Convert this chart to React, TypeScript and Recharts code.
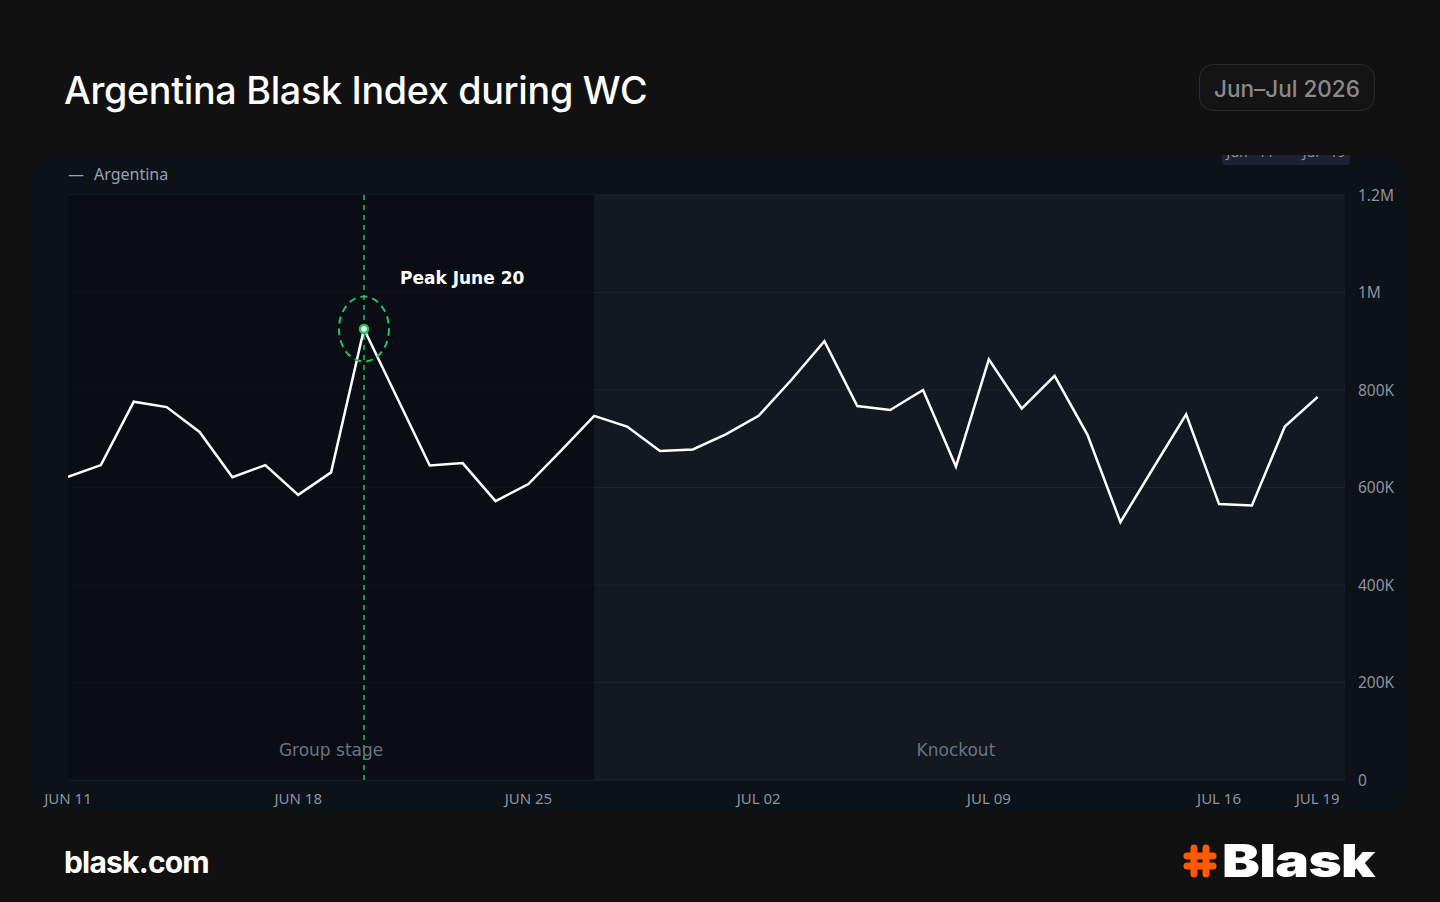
import React from 'react';
import { LineChart, Line, XAxis, YAxis, CartesianGrid, ReferenceArea, ReferenceLine } from 'recharts';

const dayLabels = [
  'Jun 11', 'Jun 12', 'Jun 13', 'Jun 14', 'Jun 15', 'Jun 16', 'Jun 17', 'Jun 18', 'Jun 19', 'Jun 20',
  'Jun 21', 'Jun 22', 'Jun 23', 'Jun 24', 'Jun 25', 'Jun 26', 'Jun 27', 'Jun 28', 'Jun 29', 'Jun 30',
  'Jul 01', 'Jul 02', 'Jul 03', 'Jul 04', 'Jul 05', 'Jul 06', 'Jul 07', 'Jul 08', 'Jul 09', 'Jul 10',
  'Jul 11', 'Jul 12', 'Jul 13', 'Jul 14', 'Jul 15', 'Jul 16', 'Jul 17', 'Jul 18', 'Jul 19',
];

const argentina = [
  622000, 646000, 776000, 765000, 714000, 621000, 646000, 585000, 631000, 925000,
  785000, 645000, 650000, 572000, 607000, 676000, 747000, 725000, 675000, 678000,
  709000, 747000, 821000, 900000, 767000, 759000, 800000, 643000, 863000, 762000,
  829000, 708000, 529000, 640000, 750000, 566000, 563000, 725000, 786000,
];

const xTicks = [0, 7, 14, 21, 28, 35, 38];
const xTickLabels = ['JUN 11', 'JUN 18', 'JUN 25', 'JUL 02', 'JUL 09', 'JUL 16', 'JUL 19'];
const yTicks = [0, 200000, 400000, 600000, 800000, 1000000, 1200000];
const yTickLabels = ['0', '200K', '400K', '600K', '800K', '1M', '1.2M'];

const phaseNames = ['Group stage', 'Knockout'];
const phaseStarts = [0, 16];
const phaseEnds = [16, 38];

const peakIndex = 9;
const peakLabel = 'Peak June 20';
const seriesName = 'Argentina';
const rangeLabel = 'Jun 11 – Jul 19';

const data = dayLabels.map((day, i) => ({ i, day, value: argentina[i] }));

const xFmt = (v: number) => {
  const k = xTicks.indexOf(v);
  return k >= 0 ? xTickLabels[k] : '';
};
const yFmt = (v: number) => {
  const k = yTicks.indexOf(v);
  return k >= 0 ? yTickLabels[k] : '';
};

const renderDot = (props: any) => {
  const { cx, cy, index } = props;
  if (index !== peakIndex) return <g key={`d${index}`} />;
  return (
    <g key="peak">
      <ellipse cx={cx} cy={cy} rx={25} ry={32.5} fill="none" stroke="#22c55e" strokeWidth={2} strokeDasharray="7 5" />
      <circle cx={cx} cy={cy} r={4} fill="#ffffff" stroke="#22c55e" strokeWidth={2.5} />
      <text x={cx + 36} y={cy - 51} dominantBaseline="central" fill="#ffffff" fontWeight="bold" fontSize={17} fontFamily="DejaVu Sans">
        {peakLabel}
      </text>
    </g>
  );
};

const labelFont = 'DejaVu Sans';
const tickFont = 'Noto Sans';

export default function App() {
  return (
    <div style={{ position: 'absolute', left: 0, top: 0, width: 1440, height: 902, background: '#111111', overflow: 'hidden' }}>
      <div style={{ position: 'absolute', left: 64, top: 62, fontFamily: 'Inter', fontWeight: 500, fontSize: 37.7, color: '#ffffff', letterSpacing: -0.3, lineHeight: '56px', whiteSpace: 'nowrap' }}>
        Argentina Blask Index during WC
      </div>
      <div style={{ position: 'absolute', left: 1199, top: 64, width: 176, height: 47, boxSizing: 'border-box', border: '1.5px solid #2a2a2a', borderRadius: 14, background: '#141414', color: '#8a8a8a', fontFamily: 'Inter', fontWeight: 500, fontSize: 22.5, display: 'flex', alignItems: 'center', justifyContent: 'center', paddingTop: 2 }}>
        Jun–Jul 2026
      </div>

      <div style={{ position: 'absolute', left: 30, top: 155, width: 1377, height: 657, background: '#0d1118', borderRadius: 24, overflow: 'hidden' }}>
        <div style={{ position: 'absolute', left: 1192, top: -6, width: 128, height: 16, background: '#1c2231', borderRadius: 4 }} />
        <div style={{ position: 'absolute', left: 1192, top: -13, width: 128, fontFamily: tickFont, fontSize: 14, color: '#8b93a1', whiteSpace: 'nowrap', textAlign: 'center', wordSpacing: 7 }}>
          {rangeLabel}
        </div>
        <div style={{ position: 'absolute', left: 38, top: 8, fontFamily: tickFont, fontSize: 16, color: '#9aa1ad', whiteSpace: 'nowrap' }}>
          <span style={{ marginRight: 10 }}>—</span>{seriesName}
        </div>
        <div style={{ position: 'absolute', left: 0, top: 0 }}>
          <LineChart width={1377} height={657} data={data} margin={{ top: 40, right: 12, bottom: 2, left: 38 }}>
            <CartesianGrid vertical={false} stroke="#1d2330" strokeWidth={1} fill="#131821" fillOpacity={1} />
            <ReferenceArea x1={phaseStarts[0]} x2={phaseEnds[0]} fill="#05070b" fillOpacity={0.6} stroke="none" ifOverflow="hidden"
              label={{ value: phaseNames[0], position: 'insideBottom', offset: 24, fill: '#6b7280', fontSize: 17, fontFamily: labelFont }} />
            <ReferenceArea x1={phaseStarts[1]} x2={phaseEnds[1]} fill="#131821" fillOpacity={0} stroke="none" ifOverflow="hidden"
              label={{ value: phaseNames[1], position: 'insideBottom', offset: 24, fill: '#6b7280', fontSize: 17, fontFamily: labelFont }} />
            <XAxis dataKey="i" type="number" domain={[0, 38.83]} ticks={xTicks} tickFormatter={xFmt} allowDataOverflow
              axisLine={false} tickLine={false} tickSize={0} tickMargin={13} height={30} interval={0}
              tick={{ fill: '#8b93a1', fontSize: 15, fontFamily: tickFont }} />
            <YAxis orientation="right" domain={[0, 1200000]} ticks={yTicks} tickFormatter={yFmt} width={50}
              axisLine={false} tickLine={false} tickSize={0} tickMargin={13} interval={0}
              tick={{ fill: '#8b93a1', fontSize: 15.5, fontFamily: tickFont, textAnchor: 'start' }} />
            <ReferenceLine x={peakIndex} stroke="#22c55e" strokeWidth={1.5} strokeDasharray="5 5" />
            <Line type="linear" dataKey="value" stroke="#ffffff" strokeWidth={2.5} dot={renderDot} activeDot={false} isAnimationActive={false} />
          </LineChart>
        </div>
      </div>

      <div style={{ position: 'absolute', left: 64, top: 840, fontFamily: 'Inter', fontWeight: 700, fontSize: 30, color: '#ffffff', letterSpacing: -0.8, lineHeight: '44px' }}>
        blask.com
      </div>
      <svg style={{ position: 'absolute', left: 1183, top: 844 }} width={34} height={34} viewBox="0 0 34 34">
        <g stroke="#ff5a00" strokeWidth={7} strokeLinecap="round" fill="none">
          <line x1={11} y1={4} x2={11} y2={30} />
          <line x1={23} y1={4} x2={23} y2={30} />
          <line x1={4} y1={12} x2={30} y2={12} />
          <line x1={4} y1={22} x2={30} y2={22} />
        </g>
      </svg>
      <div style={{ position: 'absolute', left: 1222, top: 832, fontFamily: 'Inter', fontWeight: 900, fontSize: 46, color: '#ffffff', lineHeight: '56px', transform: 'scaleX(1.23)', transformOrigin: 'left center', letterSpacing: -0.5 }}>
        Blask
      </div>
    </div>
  );
}
